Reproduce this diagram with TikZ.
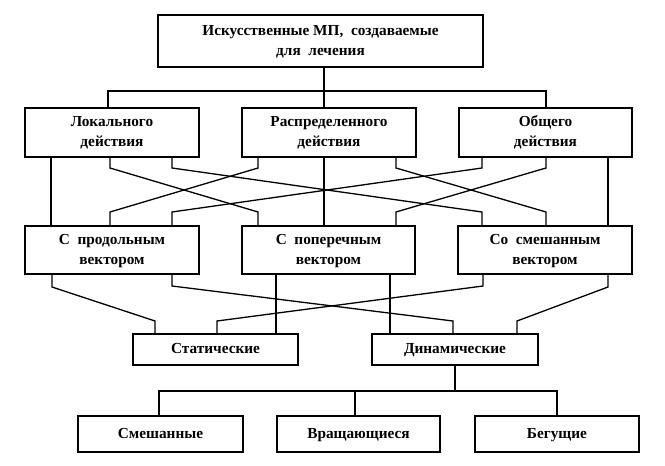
\documentclass[tikz,border=0pt]{standalone}
\usepackage{fontspec}
\setmainfont{Liberation Serif}
\begin{document}
\begin{tikzpicture}[x=1pt,y=-1pt,
  box/.style={draw, line width=1.5pt, inner sep=0pt, align=center,
    font=\fontsize{15.3}{20}\selectfont\bfseries},
  wire/.style={line width=1.3pt, line join=miter}]
\useasboundingbox (0,0) rectangle (665,466);
% boxes
\node[box, minimum width=325pt, minimum height=52pt] (T) at (320.5,41) {\strut Искусственные МП,~ создаваемые\\\strut для~ лечения};
\node[box, minimum width=174pt, minimum height=49pt] (L) at (112,132.5) {\strut Локального\\\strut действия};
\node[box, minimum width=174pt, minimum height=49pt] (R) at (329,132.5) {\strut Распределенного\\\strut действия};
\node[box, minimum width=173pt, minimum height=49pt] (O) at (545.5,132.5) {\strut Общего\\\strut действия};
\node[box, minimum width=174pt, minimum height=48pt] (P) at (112,250) {\strut С~ продольным\\\strut вектором};
\node[box, minimum width=173pt, minimum height=48pt] (Q) at (328.5,250) {\strut С~ поперечным\\\strut вектором};
\node[box, minimum width=174pt, minimum height=48pt] (S) at (545,250) {\strut Со~ смешанным\\\strut вектором};
\node[box, minimum width=165pt, minimum height=31pt] (St) at (215.5,349.5) {\strut Статические};
\node[box, minimum width=166pt, minimum height=31pt] (Dy) at (455,349.5) {\strut Динамические};
\node[box, minimum width=165pt, minimum height=36pt] (Sm) at (160.5,434) {\strut Смешанные};
\node[box, minimum width=163pt, minimum height=36pt] (Vr) at (358.5,434) {\strut Вращающиеся};
\node[box, minimum width=164pt, minimum height=36pt] (Be) at (557,434) {\strut Бегущие};
% top level
\draw[wire] (T.south -| 324,0) -- (R.north -| 324,0);
\draw[wire] (L.north -| 108,0) -- (108,91) -- (546,91) -- (O.north -| 546,0);
% level 2 -> level 3
\draw[wire] (L.south -| 51,0) -- (P.north -| 51,0);
\draw[wire] (R.south -| 324,0) -- (Q.north -| 324,0);
\draw[wire] (O.south -| 608,0) -- (S.north -| 608,0);
\draw[wire] (L.south -| 110,0) -- (110,168) -- (258,212) -- (Q.north -| 258,0);
\draw[wire] (R.south -| 258,0) -- (258,168) -- (110,212) -- (P.north -| 110,0);
\draw[wire] (L.south -| 172,0) -- (172,168) -- (482,212) -- (S.north -| 482,0);
\draw[wire] (O.south -| 482,0) -- (482,168) -- (172,212) -- (P.north -| 172,0);
\draw[wire] (R.south -| 396,0) -- (396,168) -- (546,212) -- (S.north -| 546,0);
\draw[wire] (O.south -| 546,0) -- (546,168) -- (396,212) -- (Q.north -| 396,0);
% level 3 -> level 4
\draw[wire] (P.south -| 52,0) -- (52,287) -- (155,321) -- (St.north -| 155,0);
\draw[wire] (P.south -| 172,0) -- (172,286) -- (453,321) -- (Dy.north -| 453,0);
\draw[wire] (Q.south -| 276,0) -- (St.north -| 276,0);
\draw[wire] (Q.south -| 390,0) -- (Dy.north -| 390,0);
\draw[wire] (S.south -| 483,0) -- (483,286) -- (217,321) -- (St.north -| 217,0);
\draw[wire] (S.south -| 608,0) -- (608,287) -- (517,321) -- (Dy.north -| 517,0);
% level 4 -> level 5
\coordinate (j) at (455,391);
\draw[wire] (Dy.south) -- (j);
\draw[wire] (Sm.north -| 159,0) -- (159,391) -- (557,391) -- (Be.north -| 557,0);
\draw[wire] (Vr.north -| 355,0) -- (355,391);
\end{tikzpicture}
\end{document}
